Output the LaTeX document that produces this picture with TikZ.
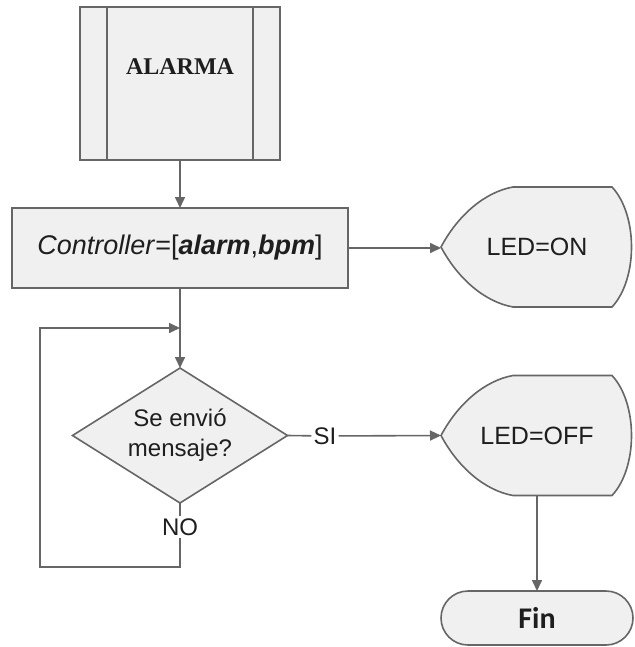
\documentclass[tikz,border=0pt]{standalone}
\usepackage{fontspec}
\setmainfont{Liberation Sans}
\newfontfamily\serifbf{Liberation Serif}
\newfontfamily\calibri{Carlito}
\usetikzlibrary{arrows.meta,shapes.geometric,calc}
\pgfdeclarelayer{bg}
\pgfsetlayers{bg,main}
\definecolor{ln}{HTML}{666666}
\definecolor{bx}{HTML}{F0F0F0}
\definecolor{tx}{HTML}{1E1E1E}
\newcommand\dispoutline[1]{%
  \path[box] (#1.west) .. controls ($(#1.west)+(17pt,32pt)$) and ($(#1.north west)+(44pt,-5pt)$) .. ($(#1.north west)+(72pt,0pt)$)
    -- ($(#1.north east)+(-21pt,0pt)$) .. controls ($(#1.north east)+(5pt,-28pt)$) and ($(#1.south east)+(5pt,28pt)$) .. ($(#1.south east)+(-21pt,0pt)$)
    -- ($(#1.south west)+(72pt,0pt)$) .. controls ($(#1.south west)+(44pt,5pt)$) and ($(#1.west)+(17pt,-32pt)$) .. (#1.west) -- cycle;}
\begin{document}
\begin{tikzpicture}[x=1pt,y=-1pt,
  box/.style={draw=ln,line width=1.6pt,fill=bx,inner sep=0pt,outer sep=0pt,text=tx},
  conn/.style={draw=ln,line width=1.6pt},
  arr/.style={conn,-{Triangle[length=11pt,width=10pt]}},
  lbl/.style={inner sep=2pt,text=tx,font=\fontsize{24}{28}\selectfont},
  disp/.style={minimum width=192pt,minimum height=120pt,inner sep=0pt,outer sep=0pt,text=tx,font=\fontsize{25}{30}\selectfont}]
\useasboundingbox (0,0) rectangle (634,647);

% ALARMA subroutine
\node[box,minimum width=200pt,minimum height=153pt] (alarma) at (180,83.5) {};
\draw[conn] ([xshift=27pt]alarma.north west) -- ([xshift=27pt]alarma.south west);
\draw[conn] ([xshift=-27pt]alarma.north east) -- ([xshift=-27pt]alarma.south east);
\node[text=tx,font=\serifbf\bfseries\fontsize{24}{28}\selectfont] (alarmatext) at (180,67) {ALARMA};

% Controller
\node[box,minimum width=336pt,minimum height=80pt,font=\fontsize{27}{30}\selectfont] (ctrl) at (180,248)
  {\textit{Controller}=[\textbf{\textit{alarm}},\textbf{\textit{bpm}}]};

% LED=ON
\node[disp] (ledon) at (537,247) {LED=ON};
\begin{pgfonlayer}{bg}\dispoutline{ledon}\end{pgfonlayer}

% Decision
\node[box,diamond,aspect=1.6,minimum width=215pt,minimum height=135pt,align=center,
  font=\fontsize{24}{30}\selectfont] (dia) at (180,435.5) {Se envió\\mensaje?};

% LED=OFF
\node[disp] (ledoff) at (537,435.5) {LED=OFF};
\begin{pgfonlayer}{bg}\dispoutline{ledoff}\end{pgfonlayer}

% Fin
\node[box,rounded corners=27pt,minimum width=192pt,minimum height=54pt,
  font=\calibri\bfseries\fontsize{30}{34}\selectfont] (fin) at (537,618) {Fin};

% connectors
\draw[arr] (alarma.south) -- (ctrl.north);
\draw[arr] (ctrl.east) -- (ctrl.east -| ledon.west);
\draw[arr] (ctrl.south) -- (dia.north);

\node[lbl] (si) at (325,436) {SI};
\draw[conn] (dia.east) -- (si);
\draw[arr] (si) -- (ledoff.west);

\coordinate (lp1) at (180,567);
\coordinate (lp2) at (40,567);
\coordinate (lp3) at (40,328);
\coordinate (lp4) at (180,328);
\node[lbl] (no) at (180,527) {NO};
\draw[conn] (dia.south) -- (no);
\draw[arr] (no) -- (lp1) -- (lp2) -- (lp3) -- (lp4);

\draw[arr] (ledoff.south) -- (fin.north);
\end{tikzpicture}
\end{document}
